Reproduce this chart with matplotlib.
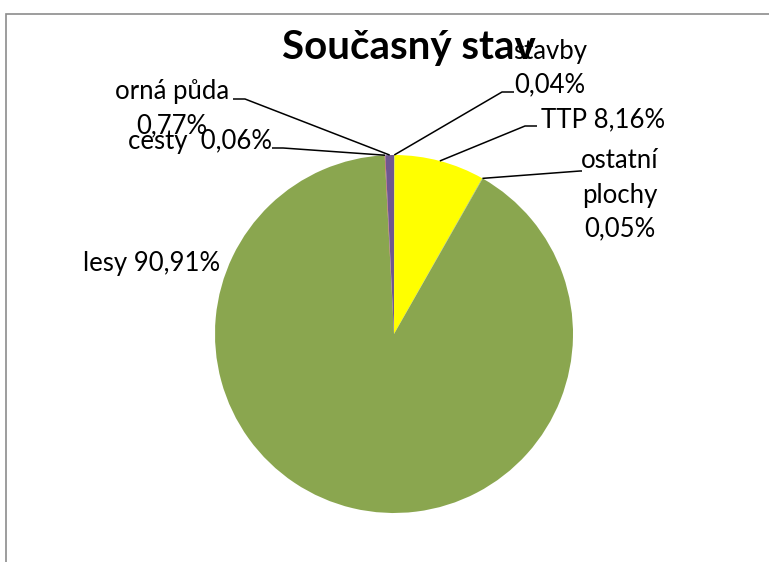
import matplotlib.pyplot as plt
from matplotlib.patches import Rectangle
import numpy as np

W, H = 769, 562

kategorie = ["stavby", "TTP", "ostatní plochy", "lesy", "cesty", "orná půda"]
podil = [0.04, 8.16, 0.05, 90.91, 0.06, 0.77]
popisky = ["stavby\n0,04%", "TTP 8,16%", "ostatní\nplochy\n0,05%",
           "lesy 90,91%", "cesty  0,06%", "orná půda\n0,77%"]
barvy = ["#4F81BD", "#FFFF00", "#9BBB59", "#8AA64F", "#C0504D", "#6F5790"]

# pozice popisku (px od leveho horniho rohu) a lomu odkazove cary
pozice = [(550, 68), (603, 120), (620, 195), (152, 263), (200, 141), (172, 109)]
lomy = [[(502, 92), (514, 92)],
        [(525, 126), (537, 126)],
        [(580, 171), (582, 171)],
        None,
        [(283, 148), (272, 148)],
        [(245, 99), (233, 99)]]

plt.rcParams['font.family'] = ['Lato', 'DejaVu Sans']

fig = plt.figure(figsize=(W / 100, H / 100), dpi=100)
ax = fig.add_axes([0, 0, 1, 1])

# ramecek grafu
ax.add_patch(Rectangle((6, -20), W + 20, H - 14 + 20, fill=False,
                       edgecolor='#8c8c8c', linewidth=1.2))

cx, cy, r = 394, H - 334, 179
wedges, _ = ax.pie(podil, colors=barvy, startangle=90, counterclock=False,
                   center=(cx, cy), radius=r, frame=True,
                   wedgeprops=dict(linewidth=0))
ax.set_xlim(0, W)
ax.set_ylim(0, H)
ax.set_aspect('equal')
ax.axis('off')

for w, txt, (px, py), lom in zip(wedges, popisky, pozice, lomy):
    if lom is not None:
        a = np.deg2rad((w.theta1 + w.theta2) / 2)
        xs = [cx + r * np.cos(a)] + [p[0] for p in lom]
        ys = [cy + r * np.sin(a)] + [H - p[1] for p in lom]
        ax.plot(xs, ys, color='black', linewidth=1.1, solid_capstyle='butt')
    ax.text(px, H - py, txt, ha='center', va='center', fontsize=18.5,
            linespacing=1.45)

ax.text(409, H - 47, "Současný stav", ha='center', va='center',
        fontsize=29, fontweight='bold')

fig.savefig("out.png", dpi=100)
